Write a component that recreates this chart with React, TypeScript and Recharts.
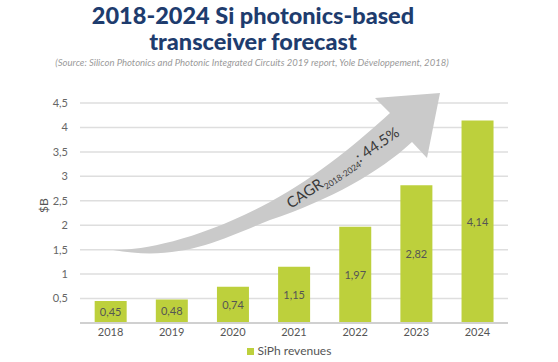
import React from 'react';
import { BarChart, Bar, XAxis, YAxis, CartesianGrid, LabelList, Legend, Customized } from 'recharts';

const years = ['2018', '2019', '2020', '2021', '2022', '2023', '2024'];
const revenues = [0.45, 0.48, 0.74, 1.15, 1.97, 2.82, 4.14];
const yTicks = [0.5, 1, 1.5, 2, 2.5, 3, 3.5, 4, 4.5];
const seriesName = 'SiPh revenues';
const titleLines = ['2018-2024 Si photonics-based', 'transceiver forecast'];
const subtitle = '(Source: Silicon Photonics and Photonic Integrated Circuits 2019 report, Yole Développement, 2018)';

const data = years.map((y, i) => ({ year: y, value: revenues[i] }));

const FONT = 'Lato, "Open Sans", sans-serif';
const BAR = '#bdd03c';
const comma = (v: any) => String(v).replace('.', ',');

const Decor = () => (
  <g>
    <text x={253} y={24} textAnchor="middle" fontFamily={FONT} fontWeight={900} fontSize={23.5} fill="#1e3c6e">{titleLines[0]}</text>
    <text x={253} y={50} textAnchor="middle" fontFamily={FONT} fontWeight={900} fontSize={23.5} fill="#1e3c6e">{titleLines[1]}</text>
    <text x={252} y={66} textAnchor="middle" fontFamily={FONT} fontStyle="italic" fontSize={9.5} fill="#9a9a9a">{subtitle}</text>
    <path
      d="M113,250 C140,251 200,240 270,202 C320,175 360,140 390,113 L375,98 L440,93 L427,158 L412,142 C380,172 330,200 270,220 C220,240 180,262 113,250 Z"
      fill="#cacaca"
    />
    <text transform="translate(291,209) rotate(-34)" fontFamily={FONT} fill="#3a3a3a">
      <tspan fontSize={15}>CAGR</tspan>
      <tspan fontSize={8.5} dy={4}>2018-2024</tspan>
      <tspan fontSize={15} dy={-4}>: 44.5%</tspan>
    </text>
  </g>
);

export default function App() {
  return (
    <div style={{ position: 'absolute', left: 0, top: 0, width: 558, height: 362, background: '#fff' }}>
      <BarChart
        width={558}
        height={362}
        data={data}
        margin={{ top: 103, right: 50, bottom: 0, left: 0 }}
        barCategoryGap="24%"
      >
        <CartesianGrid vertical={false} stroke="#dedede" strokeWidth={1.5} />
        <Customized component={Decor} />
        <XAxis
          dataKey="year"
          height={20}
          tickSize={0}
          tickMargin={5}
          axisLine={{ stroke: '#d0d0d0', strokeWidth: 2 }}
          tick={{ fill: '#555', fontSize: 11, fontFamily: FONT }}
        />
        <YAxis
          width={80}
          domain={[0, 4.5]}
          ticks={yTicks}
          interval={0}
          tickSize={0}
          tickMargin={12}
          axisLine={false}
          tickFormatter={comma}
          tick={{ fill: '#666', fontSize: 11, fontFamily: FONT }}
          label={{ value: '$B', angle: -90, position: 'insideLeft', offset: 44, fill: '#555', fontSize: 12, fontFamily: FONT }}
        />
        <Legend
          verticalAlign="bottom"
          align="center"
          iconType="square"
          iconSize={7}
          height={19}
          wrapperStyle={{ fontFamily: FONT, fontSize: 12, color: '#555', paddingLeft: 40 }}
          formatter={(v: any) => <span style={{ color: '#555' }}>{v}</span>}
        />
        <Bar dataKey="value" name={seriesName} fill={BAR} isAnimationActive={false}>
          <LabelList dataKey="value" position="center" formatter={comma} fill="#555" fontSize={11} fontFamily={FONT} />
        </Bar>
      </BarChart>
    </div>
  );
}
